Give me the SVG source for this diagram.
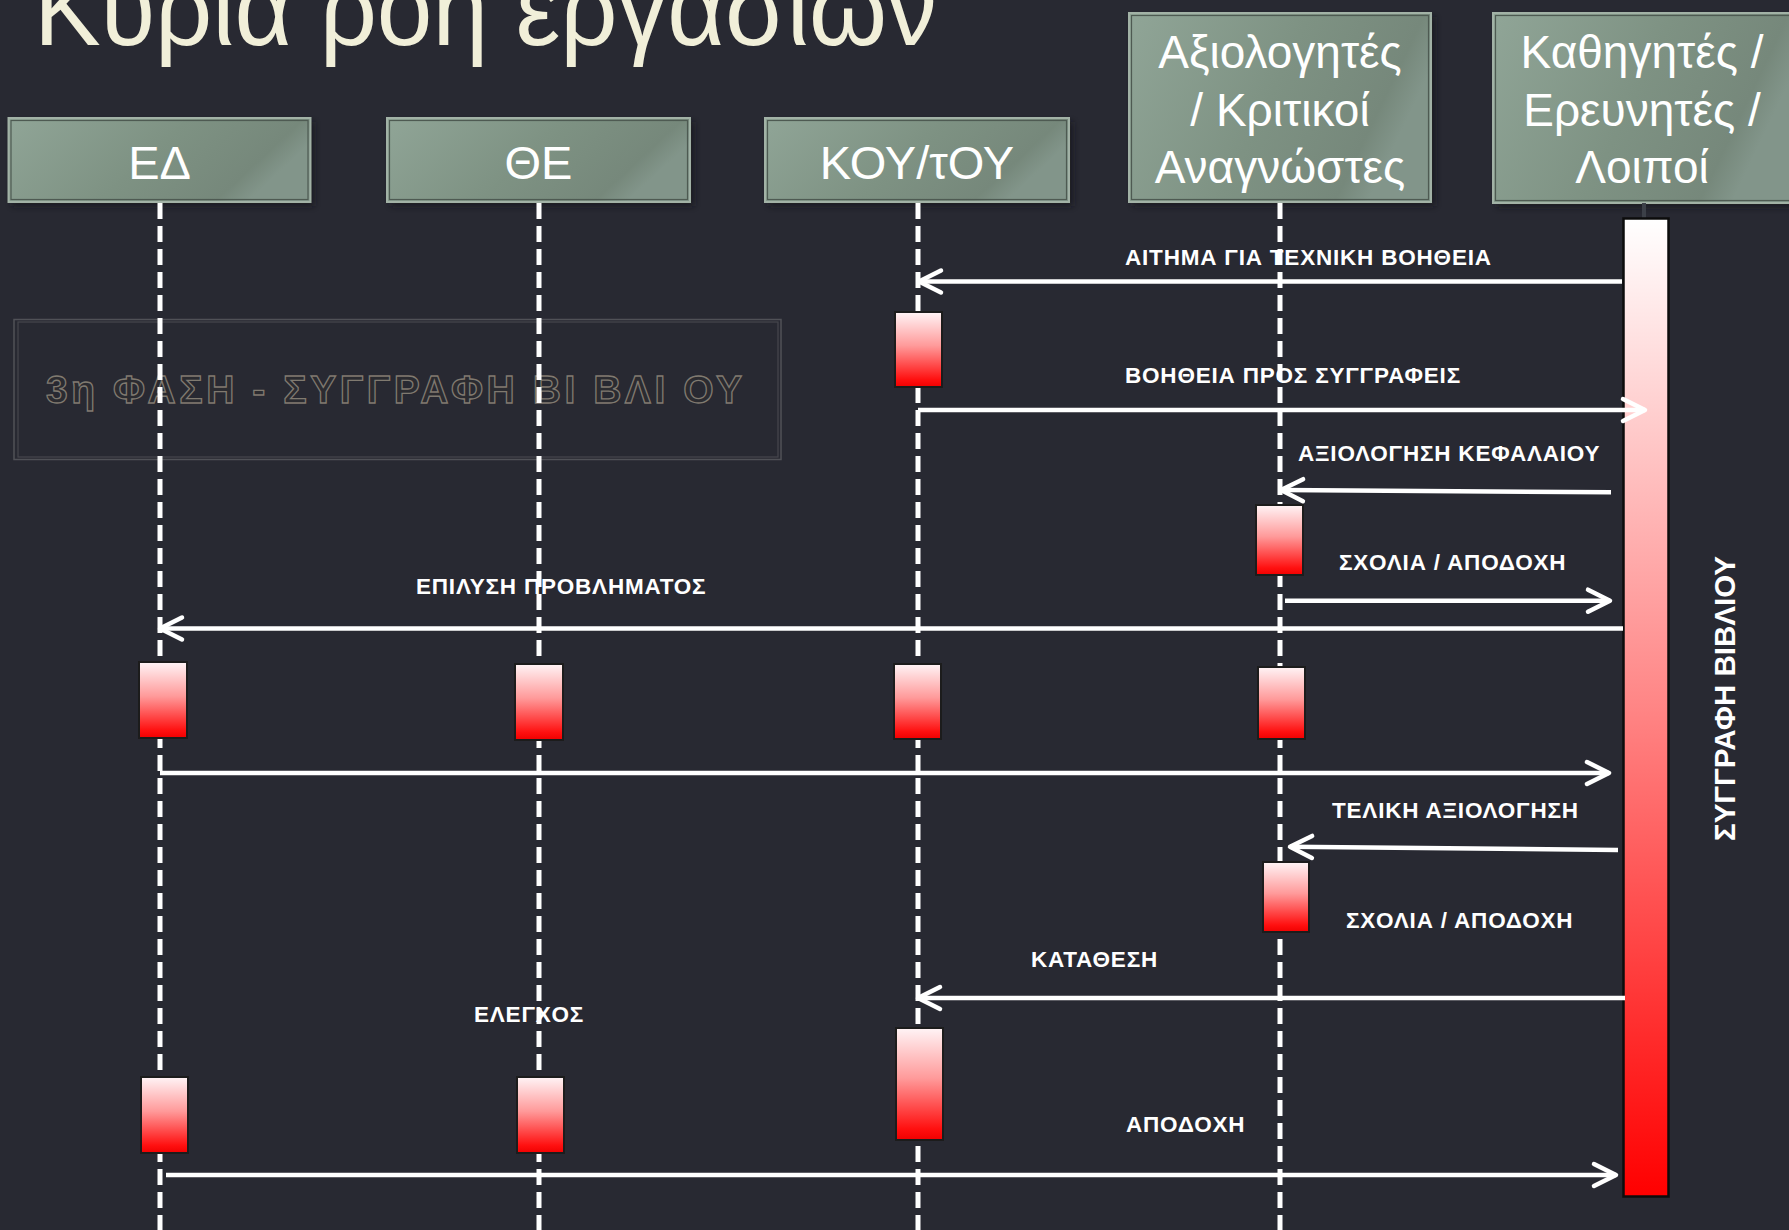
<svg xmlns="http://www.w3.org/2000/svg" width="1789" height="1230" viewBox="0 0 1789 1230">
<defs>
<style>
.hdr{fill:url(#hdrGrad);stroke:#a2b2a6;stroke-width:2}
.hdrIn{fill:none;stroke:#4e5a52;stroke-width:1.2}
.shadow{fill:#15151b;opacity:0.7;filter:url(#blur)}
.htext{font-family:"Liberation Sans",Arial,sans-serif;font-size:47px;fill:#ffffff;text-anchor:middle}
.htext2{font-family:"Liberation Sans",Arial,sans-serif;font-size:46px;fill:#ffffff;text-anchor:middle}
.life{stroke:#ffffff;stroke-width:5;stroke-dasharray:16 7;fill:none}
.act{fill:url(#actGrad);stroke:#1c1c1c;stroke-width:2}
.msg{stroke:#ffffff;stroke-width:4.5;fill:none;marker-end:url(#chev)}
.lbl{font-family:"Liberation Sans",Arial,sans-serif;font-weight:bold;font-size:22.5px;letter-spacing:0.8px;fill:#ffffff}
</style>
<linearGradient id="hdrGrad" x1="0" y1="0" x2="1" y2="0.3">
<stop offset="0" stop-color="#90a597"/>
<stop offset="0.55" stop-color="#7e9283"/>
<stop offset="0.9" stop-color="#76887b"/>
<stop offset="1" stop-color="#82958a"/>
</linearGradient>
<linearGradient id="actGrad" x1="0" y1="0" x2="0" y2="1">
<stop offset="0" stop-color="#fff4f6"/>
<stop offset="0.45" stop-color="#ff9a9a"/>
<stop offset="0.9" stop-color="#ff1010"/>
<stop offset="1" stop-color="#f00000"/>
</linearGradient>
<linearGradient id="barGrad" x1="0" y1="0" x2="0" y2="1">
<stop offset="0" stop-color="#ffffff"/>
<stop offset="0.5" stop-color="#ff8585"/>
<stop offset="1" stop-color="#ff0000"/>
</linearGradient>
<filter id="blur" x="-10%" y="-10%" width="120%" height="120%">
<feGaussianBlur stdDeviation="3"/>
</filter>
<marker id="chev" markerUnits="userSpaceOnUse" viewBox="-28 -16 32 32" refX="0" refY="0" markerWidth="32" markerHeight="32" orient="auto">
<path d="M-22,-11 L0,0 L-22,11" fill="none" stroke="#ffffff" stroke-width="4.5" stroke-linecap="round" stroke-linejoin="round"/>
</marker>
</defs>
<rect x="0" y="0" width="1789" height="1230" fill="#282932"/>
<text x="34" y="45" font-family="'Liberation Sans',Arial,sans-serif" font-size="106" fill="#f1efd9" textLength="903" lengthAdjust="spacingAndGlyphs">Κυρία ροή εργασιών</text>

<g id="phase">
<rect x="14" y="319.5" width="767" height="140" fill="none" stroke="#505157" stroke-width="1.5"/>
<rect x="18" y="322" width="760" height="135" fill="none" stroke="#46474d" stroke-width="1.2"/>
<text x="46" y="403" font-family="'Liberation Sans',Arial,sans-serif" font-weight="bold" font-size="39" fill="#2b2b30" stroke="#807a70" stroke-width="1.3" textLength="696" lengthAdjust="spacing">3η ΦΑΣΗ - ΣΥΓΓΡΑΦΗ ΒΙ ΒΛΙ ΟΥ</text>
</g>

<g id="labels">
<text class="lbl" x="1125" y="265">ΑΙΤΗΜΑ ΓΙΑ ΤΕΧΝΙΚΗ ΒΟΗΘΕΙΑ</text>
<text class="lbl" x="1125" y="383">ΒΟΗΘΕΙΑ ΠΡΟΣ ΣΥΓΓΡΑΦΕΙΣ</text>
<text class="lbl" x="1298" y="461">ΑΞΙΟΛΟΓΗΣΗ ΚΕΦΑΛΑΙΟΥ</text>
<text class="lbl" x="1339" y="570">ΣΧΟΛΙΑ / ΑΠΟΔΟΧΗ</text>
<text class="lbl" x="416" y="594">ΕΠΙΛΥΣΗ ΠΡΟΒΛΗΜΑΤΟΣ</text>
<text class="lbl" x="1332" y="818">ΤΕΛΙΚΗ ΑΞΙΟΛΟΓΗΣΗ</text>
<text class="lbl" x="1346" y="928">ΣΧΟΛΙΑ / ΑΠΟΔΟΧΗ</text>
<text class="lbl" x="1031" y="967">ΚΑΤΑΘΕΣΗ</text>
<text class="lbl" x="474" y="1022">ΕΛΕΓΧΟΣ</text>
<text class="lbl" x="1126" y="1132">ΑΠΟΔΟΧΗ</text>
</g>

<g id="node-ED">
<rect class="shadow" x="12" y="122" width="302" height="84"/>
<rect class="hdr" x="8.5" y="118" width="302" height="84"/>
<rect class="hdrIn" x="11" y="120.5" width="297" height="79"/>
<text class="htext" x="159.5" y="179">ΕΔ</text>
<line class="life" x1="160" y1="203" x2="160" y2="1230"/>
<rect class="act" x="139" y="662" width="48" height="76"/>
<rect class="act" x="141" y="1077" width="47" height="76"/>
</g>

<g id="node-THE">
<rect class="shadow" x="391" y="122" width="303" height="84"/>
<rect class="hdr" x="387" y="118" width="303" height="84"/>
<rect class="hdrIn" x="389.5" y="120.5" width="298" height="79"/>
<text class="htext" x="538.5" y="179">ΘΕ</text>
<line class="life" x1="539" y1="203" x2="539" y2="1230"/>
<rect class="act" x="515" y="664" width="48" height="76"/>
<rect class="act" x="517" y="1077" width="47" height="76"/>
</g>

<g id="node-KOY">
<rect class="shadow" x="769" y="122" width="304" height="84"/>
<rect class="hdr" x="765" y="118" width="304" height="84"/>
<rect class="hdrIn" x="767.5" y="120.5" width="299" height="79"/>
<text class="htext" x="917" y="179">ΚΟΥ/τΟΥ</text>
<line class="life" x1="918" y1="203" x2="918" y2="1230"/>
<rect class="act" x="895" y="312" width="47" height="75"/>
<rect class="act" x="894" y="664" width="47" height="75"/>
<rect class="act" x="896" y="1028" width="47" height="112"/>
</g>

<g id="node-AXIOL">
<rect class="shadow" x="1133" y="17" width="302" height="189"/>
<rect class="hdr" x="1129" y="13" width="302" height="189"/>
<rect class="hdrIn" x="1131.5" y="15.5" width="297" height="184"/>
<text class="htext2" x="1280" y="68">Αξιολογητές</text>
<text class="htext2" x="1280" y="125.5">/ Κριτικοί</text>
<text class="htext2" x="1280" y="183">Αναγνώστες</text>
<line class="life" x1="1280" y1="203" x2="1280" y2="1230"/>
<rect class="act" x="1256" y="505" width="47" height="70"/>
<rect class="act" x="1258" y="667" width="47" height="72"/>
<rect class="act" x="1263" y="862" width="46" height="70"/>
</g>

<g id="node-KATH">
<rect class="shadow" x="1497" y="17" width="302" height="190"/>
<rect class="hdr" x="1493" y="13" width="302" height="190"/>
<rect class="hdrIn" x="1495.5" y="15.5" width="297" height="185"/>
<text class="htext2" x="1642" y="68">Καθηγητές /</text>
<text class="htext2" x="1642" y="125.5">Ερευνητές /</text>
<text class="htext2" x="1642" y="183">Λοιποί</text>
<line x1="1644" y1="203" x2="1644" y2="218" stroke="#3c4048" stroke-width="4"/>
<rect x="1623.5" y="218.5" width="45" height="978" fill="url(#barGrad)" stroke="#0c0c0c" stroke-width="2.5"/>
<text transform="translate(1735,698.5) rotate(-90)" font-family="'Liberation Sans',Arial,sans-serif" font-weight="bold" font-size="29.5" fill="#ffffff" text-anchor="middle">ΣΥΓΓΡΑΦΗ ΒΙΒΛΙΟΥ</text>
</g>

<g id="connectors">
<line class="msg" x1="1622" y1="281.5" x2="919" y2="281.5"/>
<line class="msg" x1="918" y1="410" x2="1645" y2="410"/>
<line class="msg" x1="1611" y1="492.3" x2="1281" y2="490"/>
<line class="msg" x1="1285" y1="600.7" x2="1610" y2="600.7"/>
<line class="msg" x1="1623" y1="628.5" x2="160" y2="628.5"/>
<line class="msg" x1="160" y1="773" x2="1609" y2="773"/>
<line class="msg" x1="1618" y1="850" x2="1290" y2="846.7"/>
<line class="msg" x1="1625" y1="998" x2="918" y2="998"/>
<line class="msg" x1="166" y1="1175" x2="1616" y2="1175"/>
</g>
</svg>
